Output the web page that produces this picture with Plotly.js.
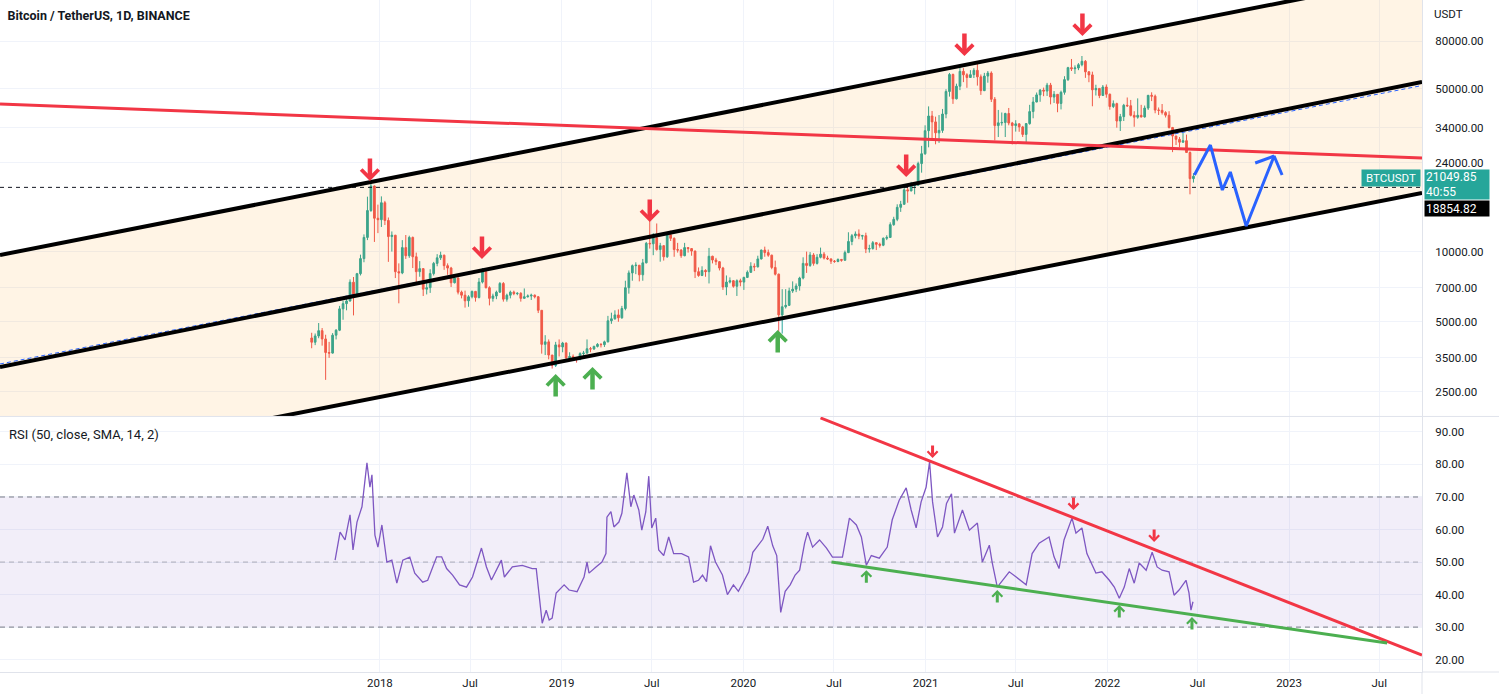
<!DOCTYPE html>
<html><head><meta charset="utf-8">
<script src="https://cdn.plot.ly/plotly-3.0.1.min.js"></script>
<style>html,body{margin:0;padding:0;background:#fff;}#chart{width:1499px;height:694px;}</style>
</head><body><div id="chart"></div>
<script>
// ---- Weekly BTC/USDT candles (weeks ending Sunday) ----
const firstOpen = 4261;
const close2017 = [4086,4347,4580,4220,3690,3670,4380,4600,5680,5980,6140,7390,6500,8040,9330,11500,15000,19100,13900,13700];
const high2017  = [4485,4453,4939,4700,4400,4100,4470,4650,5850,6150,6270,7600,7780,8100,9700,11850,17200,19800,19200,15900];
const low2017   = [3850,3970,4250,3950,2817,3500,3650,4200,4560,5100,5600,6100,5325,6500,7900,9000,11200,14800,11000,12000];

const close2018 = [16200,13600,11600,11750,8200,8100,10400,9600,11500,9500,8200,8450,6900,7000,8050,8900,9400,9650,8700,8500,7350,7700,6700,6500,6150,6400,6750,6350,7400,8200,7000,6300,6450,6700,7300,6250,6500,6700,6600,6620,6300,6400,6450,6500,6400,5600,4000,4100,3600,3250,3980,3900];
const high2018  = [17250,16500,14000,12200,11800,8900,11200,11780,11700,11600,9900,9100,8500,7500,8400,9030,9750,9990,9700,8900,8600,7800,7750,6800,6800,6500,6800,6780,7700,8500,8300,7100,6600,6800,7400,7400,6600,6800,6800,6700,6700,6950,6550,6600,6550,6450,5600,4380,4200,3600,4100,4200];
const low2018   = [12750,13000,9035,10000,7700,6000,8000,9300,9400,8500,7300,7800,6450,6550,6650,7900,8650,9200,8350,7950,7050,7300,6550,6300,5750,5800,6300,6100,6300,7300,6950,5880,6100,6250,6650,6100,6100,6300,6500,6500,6100,6290,6350,6200,6300,5450,3650,3600,3450,3150,3200,3550];

const close2019 = [4050,3500,3550,3500,3450,3650,3670,3830,3820,3920,4000,3990,4100,5050,5150,5350,5200,5700,7000,8100,8700,8740,7950,8950,10850,10800,11450,10200,10600,9500,11800,11400,10200,10150,9600,10400,10300,10050,8200,7900,8300,8200,9550,9200,9050,8500,7050,7400,7500,7100,7500,7400];
const high2019  = [4100,4080,3700,3620,3500,3700,3750,4200,3900,3950,4050,4050,4150,5300,5470,5600,5650,5850,7500,8300,8800,9000,8760,9300,11000,13970,12000,13200,10900,10650,11950,12300,11500,10900,10250,10900,10450,10350,10100,8550,8650,8400,10370,9600,9400,9100,8600,7900,7750,7550,7600,7650];
const low2019   = [3700,3470,3450,3450,3340,3420,3550,3650,3700,3790,3880,3880,3900,4080,4900,5100,5000,5150,5600,6600,7500,8000,7450,7500,8900,10300,9650,10100,9050,9150,9400,11100,9500,9900,9400,9550,9900,9600,7700,7800,7850,7800,7300,8900,8750,8300,6850,6500,7300,7000,6450,7100];

const close2020 = [7750,8150,8650,8600,9300,10150,9900,9650,8550,8000,5350,5800,5880,6780,6900,7120,7700,8900,8720,9670,8900,9450,9750,9380,9300,9100,9070,9250,9180,9900,11050,11700,11900,11650,11700,10250,10300,10920,10750,10650,11400,11500,13050,13750,15480,15950,18400,18200,19150,19250,23850,26280];
const high2020  = [7800,8300,9000,8900,9600,10200,10500,10200,9700,9150,8050,6900,6900,7000,7450,7300,7800,9450,10000,9950,9850,9750,10400,9950,9600,9350,9200,9350,9300,10100,12100,11900,12200,12450,11800,12050,10700,11100,10950,10920,11500,11750,13350,14100,15950,16500,18950,19000,19900,19400,24300,28400];
const low2020   = [6850,7700,8100,8250,8550,9250,9500,9500,8400,7900,3782,4450,5700,5850,6650,6700,6800,7600,8100,8600,8700,8800,9350,9250,9200,8850,8950,9000,9050,9150,9850,10650,11400,11300,11250,9850,9900,10200,10150,10400,10550,11200,11450,12900,13500,14800,15900,16200,18150,17600,19200,21800];

const close2021 = [33000,38150,36000,32300,33100,38900,48600,57500,45200,51200,59300,57300,55800,57400,59900,56150,49000,56600,58300,45000,34700,35650,35800,39100,35600,34700,35300,34250,31800,35400,39850,43800,47000,49250,48800,51750,46000,47250,43200,48200,54650,61500,60850,61300,63300,65500,59000,57250,49400,50100,46700,50800];
const high2021  = [34800,41950,40100,37900,38500,40900,49700,58350,58000,52500,61800,61200,58200,60000,61200,64850,57500,58400,59500,59300,46000,40500,39500,39400,41300,36000,36600,35500,34600,35500,42600,46000,48100,49800,50500,52900,52900,48800,47400,49000,56500,62000,67000,62900,64300,69000,66300,59500,59100,51950,50200,51800];
const low2021   = [26000,28000,30300,28850,29250,32300,37300,46200,43000,44950,49250,53300,50400,55700,55500,51500,47000,48800,53000,43800,30000,31000,34700,31000,34800,28800,32700,32650,31000,29300,35000,37300,43700,43900,46400,46500,42800,43400,39600,40700,47100,53900,59500,57800,60000,62300,55600,53250,42000,46700,45500,46600];

const close2022 = [47300,41900,43100,36300,37900,42400,42200,38400,37700,38400,37800,41250,46800,46400,40450,40350,39450,38450,34050,31300,30300,29450,29900,26600,20550,21049.85];
const high2022  = [52100,47600,44500,43500,38950,43000,45800,44700,40000,45400,42600,42300,46900,48200,47150,41500,42950,40000,40000,34250,31400,31000,32400,31750,26900,21700];
const low2022   = [45700,40600,41250,34000,32900,36300,41700,38000,34300,37150,37600,37550,40500,44200,39200,38550,38700,37600,33700,26700,28650,28000,29300,26550,17600,19770];

// ---- RSI (50) ----
const rsiDates = ['2017-10-03','2017-10-13','2017-10-23','2017-11-02','2017-11-08','2017-11-16','2017-11-26','2017-12-06','2017-12-12','2017-12-16','2017-12-22','2017-12-28',
'2018-01-05','2018-01-15','2018-01-25','2018-02-04','2018-02-16','2018-03-02','2018-03-12','2018-03-28','2018-04-07','2018-04-25','2018-05-05','2018-05-15','2018-05-27','2018-06-10','2018-06-24','2018-07-06','2018-07-24','2018-08-03','2018-08-13','2018-09-02','2018-09-08','2018-09-24','2018-10-14','2018-11-03','2018-11-11','2018-11-17','2018-11-23','2018-12-01','2018-12-07','2018-12-13','2018-12-21',
'2019-01-06','2019-01-16','2019-02-01','2019-02-15','2019-02-21','2019-02-25','2019-03-11','2019-03-23','2019-03-31','2019-04-02','2019-04-10','2019-04-16','2019-04-26','2019-05-02','2019-05-12','2019-05-20','2019-05-26','2019-06-05','2019-06-11','2019-06-19','2019-06-25','2019-07-01','2019-07-09','2019-07-15','2019-07-25','2019-08-04','2019-08-14','2019-08-30','2019-09-13','2019-09-23','2019-10-03','2019-10-11','2019-10-19','2019-10-27','2019-11-06','2019-11-20','2019-11-30','2019-12-12','2019-12-22',
'2020-01-02','2020-01-12','2020-01-20','2020-01-30','2020-02-09','2020-02-19','2020-02-29','2020-03-08','2020-03-11','2020-03-16','2020-03-25','2020-04-04','2020-04-14','2020-04-23','2020-05-03','2020-05-09','2020-05-19','2020-06-02','2020-06-16','2020-06-28','2020-07-18','2020-08-01','2020-08-15','2020-08-25','2020-09-04','2020-09-14','2020-09-30','2020-10-16','2020-10-26','2020-11-09','2020-11-23','2020-12-03','2020-12-13','2020-12-23',
'2021-01-02','2021-01-09','2021-01-15','2021-01-25','2021-02-04','2021-02-12','2021-02-22','2021-02-28','2021-03-16','2021-03-30','2021-04-15','2021-04-25','2021-05-09','2021-05-15','2021-05-25','2021-06-04','2021-06-18','2021-07-02','2021-07-22','2021-08-03','2021-08-17','2021-09-06','2021-09-16','2021-09-26','2021-10-06','2021-10-22','2021-10-30','2021-11-11','2021-11-21','2021-12-09','2021-12-21',
'2022-01-05','2022-01-15','2022-01-25','2022-02-04','2022-02-14','2022-02-24','2022-03-06','2022-03-20','2022-04-01','2022-04-11','2022-04-21','2022-05-05','2022-05-15','2022-05-25','2022-06-08','2022-06-14','2022-06-18','2022-06-22'];
const rsiValues = [50.6,59.2,56.8,64.5,53.7,62.3,67,80.5,73,76.8,58.3,54.6,
61.4,50,50.6,43.5,50.6,51.5,46.6,43.8,44.4,51.6,51.6,48,46,43,42.3,45.4,54.3,48.5,44.5,50.6,45.4,48.5,49,48,48,40.5,31.2,35.2,32.2,32.8,40.5,
43,41.4,40.9,45.4,50,46.6,48.5,50,52.6,63.8,65.5,60.8,62.3,65,77.4,67,70.6,66,59.8,65.4,76.4,60.5,63.5,53.7,52,57.7,52.6,52.6,51.6,43.8,44.4,46,44,55,50,46,40,43,41,
44,47,53,55,57,61,55,52,44,34.5,41,43,46,47.5,55.8,59.2,54.6,56.8,54.3,51.5,51.5,63.5,61.4,57.7,49,52,51.2,54.6,63,69,72.8,66,60.5,68.5,
73,80.8,68.5,57.7,60.8,68,71,58.9,66,59.8,62,50,55.2,49.7,42.3,44.4,47,45.4,43,52.6,55.8,57.7,51.6,48,56.8,63.5,58.9,60.5,52.6,46.6,47,
44.4,42.3,38.9,42.3,48,43.5,49.7,47.5,53,48.5,47.5,47,39.8,41.4,44.4,40.5,35.2,37.8];

// ---- Axis ticks ----
const xTickVals = ['2018-01-01','2018-07-01','2019-01-01','2019-07-01','2020-01-01','2020-07-01','2021-01-01','2021-07-01','2022-01-01','2022-07-01','2023-01-01','2023-07-01'];
const xTickText = ['2018','Jul','2019','Jul','2020','Jul','2021','Jul','2022','Jul','2023','Jul'];
const priceTicks = [2500,3500,5000,7000,10000,24000,34000,50000,80000];
const rsiTicks = [20,30,40,50,60,70,80,90];

// ---- Drawings (in data units) ----
const viewStart = '2015-11-30', viewEnd = '2023-09-25';
const channelTop = [9667, 153500];
const channelMid = [3199, 53360];
const channelBottom = [1141, 17835];
const channelMidDashed = [3296, 51550];
const redResistance = [42940, 25200];
const hLinePrice = 18854.82;
const lastPrice = 21049.85;
const projDates = ['2022-06-25','2022-07-27','2022-08-20','2022-09-05','2022-10-07','2022-12-02','2022-12-18'];
const projPrices = [21300,28640,18370,21940,12880,25700,21300];
const projHeadDates = ['2022-10-25','2022-12-02'];
const projHeadPrices = [23980,25700];
const rsiRedDates = ['2020-06-04','2023-09-25'], rsiRedVals = [94.3,21.4];
const rsiGreenDates = ['2020-06-26','2023-07-17'], rsiGreenVals = [50,25.1];
const priceDownDates = ['2017-12-12','2018-07-25','2019-06-27','2020-11-23','2021-03-20','2021-11-12'];
const priceDownVals = [20080,9295,13395,20880,68980,84040];
const priceUpDates = ['2018-12-20','2019-03-04','2020-03-10'];
const priceUpVals = [2985,3199,4610];
const rsiDownDates = ['2021-01-15','2021-10-25','2022-04-05'];
const rsiDownVals = [82,66,56.2];
const rsiUpDates = ['2020-09-04','2021-05-25','2022-01-25','2022-06-20'];
const rsiUpVals = [47.5,41.4,36.8,33.1];

// ---- Build ----
const closes = [].concat(close2017, close2018, close2019, close2020, close2021, close2022);
const highs  = [].concat(high2017, high2018, high2019, high2020, high2021, high2022);
const lows   = [].concat(low2017, low2018, low2019, low2020, low2021, low2022);
const opens  = closes.map((c, i) => i === 0 ? firstOpen : closes[i - 1]);
const weekDates = closes.map((_, i) => new Date(Date.UTC(2017, 7, 17) + i * 7 * 864e5).toISOString().slice(0, 10));

const RED = '#f23645', GREEN = '#4caf50', BLUE = '#2962ff', GRID = '#f0f3fa', LINE = '#e0e3eb', TXT = '#131722';
const FONT = 'Roboto, "Liberation Sans", sans-serif';

const traces = [
  {type:'scatter', mode:'lines', x:[viewStart, viewEnd, viewEnd, viewStart], y:[channelTop[0], channelTop[1], channelBottom[1], channelBottom[0]],
   fill:'toself', fillcolor:'rgba(255,152,0,0.1)', line:{width:0}, xaxis:'x', yaxis:'y', hoverinfo:'skip'},
  {type:'candlestick', x:weekDates, open:opens, high:highs, low:lows, close:closes, xaxis:'x', yaxis:'y',
   increasing:{line:{color:'#26a69a', width:1}, fillcolor:'#26a69a'},
   decreasing:{line:{color:'#ef5350', width:1}, fillcolor:'#ef5350'}, whiskerwidth:0, hoverinfo:'skip'},
  {type:'scatter', mode:'lines', x:[viewStart, viewEnd], y:[hLinePrice, hLinePrice], line:{color:TXT, width:1, dash:'4px,4px'}, xaxis:'x', yaxis:'y'},
  {type:'scatter', mode:'lines', x:[viewStart, viewEnd], y:channelMidDashed, line:{color:BLUE, width:1, dash:'4px,3px'}, xaxis:'x', yaxis:'y'},
  {type:'scatter', mode:'lines', x:[viewStart, viewEnd], y:channelTop, line:{color:'#000000', width:4}, xaxis:'x', yaxis:'y'},
  {type:'scatter', mode:'lines', x:[viewStart, viewEnd], y:channelMid, line:{color:'#000000', width:4}, xaxis:'x', yaxis:'y'},
  {type:'scatter', mode:'lines', x:[viewStart, viewEnd], y:channelBottom, line:{color:'#000000', width:4}, xaxis:'x', yaxis:'y'},
  {type:'scatter', mode:'lines', x:[viewStart, viewEnd], y:redResistance, line:{color:RED, width:3}, xaxis:'x', yaxis:'y'},
  {type:'scatter', mode:'lines', x:projDates, y:projPrices, line:{color:BLUE, width:3}, xaxis:'x', yaxis:'y'},
  {type:'scatter', mode:'lines', x:projHeadDates, y:projHeadPrices, line:{color:BLUE, width:3}, xaxis:'x', yaxis:'y'},
  // RSI pane
  {type:'scatter', mode:'lines', x:[viewStart, viewEnd, viewEnd, viewStart], y:[30,30,70,70], fill:'toself', fillcolor:'rgba(126,87,194,0.1)', line:{width:0}, xaxis:'x2', yaxis:'y2'},
  {type:'scatter', mode:'lines', x:[viewStart, viewEnd], y:[70,70], line:{color:'#787b86', width:1, dash:'5px,4px'}, xaxis:'x2', yaxis:'y2'},
  {type:'scatter', mode:'lines', x:[viewStart, viewEnd], y:[50,50], line:{color:'rgba(120,123,134,0.55)', width:1, dash:'5px,4px'}, xaxis:'x2', yaxis:'y2'},
  {type:'scatter', mode:'lines', x:[viewStart, viewEnd], y:[30,30], line:{color:'#787b86', width:1, dash:'5px,4px'}, xaxis:'x2', yaxis:'y2'},
  {type:'scatter', mode:'lines', x:rsiDates, y:rsiValues, line:{color:'#7e57c2', width:1.3}, xaxis:'x2', yaxis:'y2'},
  {type:'scatter', mode:'lines', x:rsiRedDates, y:rsiRedVals, line:{color:RED, width:3}, xaxis:'x2', yaxis:'y2'},
  {type:'scatter', mode:'lines', x:rsiGreenDates, y:rsiGreenVals, line:{color:GREEN, width:3}, xaxis:'x2', yaxis:'y2'}
];

function arrow(x, y, xref, yref, down, color, big) {
  return {x:x, y:y, xref:xref, yref:yref, text:'', showarrow:true, arrowhead:4,
    arrowwidth: big ? 4.5 : 3, arrowsize: big ? 0.75 : 0.65, arrowcolor:color,
    ax:0, ay: (down ? -1 : 1) * (big ? 24 : 14), standoff:0};
}

const annotations = [];
priceDownDates.forEach((d, i) => annotations.push(arrow(d, Math.log10(priceDownVals[i]), 'x', 'y', true, RED, true)));
priceUpDates.forEach((d, i) => annotations.push(arrow(d, Math.log10(priceUpVals[i]), 'x', 'y', false, GREEN, true)));
rsiDownDates.forEach((d, i) => annotations.push(arrow(d, rsiDownVals[i], 'x2', 'y2', true, RED, false)));
rsiUpDates.forEach((d, i) => annotations.push(arrow(d, rsiUpVals[i], 'x2', 'y2', false, GREEN, false)));

annotations.push(
  {xref:'paper', yref:'paper', x:0, y:0.3795, xanchor:'left', yanchor:'middle', xshift:7, yshift:-18, showarrow:false,
   text:'RSI (50, close, SMA, 14, 2)', font:{family:FONT, size:13, color:TXT}},
  {xref:'paper', yref:'paper', x:1, y:1, xanchor:'left', yanchor:'middle', xshift:10, yshift:-14, showarrow:false,
   text:'USDT', font:{family:FONT, size:11.5, color:TXT}},
  {xref:'paper', yref:'y', x:1, y:Math.log10(lastPrice), xanchor:'right', yanchor:'middle', xshift:-1, yshift:-2, showarrow:false,
   text:'BTCUSDT', font:{family:FONT, size:11.5, color:'#ffffff'}, bgcolor:'#26a69a', width:56, height:14, borderpad:1},
  {xref:'paper', yref:'y', x:1, y:Math.log10(lastPrice), xanchor:'left', yanchor:'top', xshift:2, yshift:7, showarrow:false,
   text:lastPrice.toFixed(2) + '<br>40:55', align:'left', font:{family:FONT, size:12, color:'#ffffff'}, bgcolor:'#26a69a', width:62, height:27, borderpad:1},
  {xref:'paper', yref:'y', x:1, y:Math.log10(hLinePrice), xanchor:'left', yanchor:'top', xshift:2, yshift:-13, showarrow:false,
   text:hLinePrice.toFixed(2), align:'left', font:{family:FONT, size:12, color:'#ffffff'}, bgcolor:'#000000', width:62, height:13, borderpad:1}
);

const layout = {
  width:1499, height:694,
  margin:{l:0, r:77, t:0, b:22},
  paper_bgcolor:'#ffffff', plot_bgcolor:'#ffffff',
  showlegend:false, hovermode:false,
  font:{family:FONT, size:11.5, color:TXT},
  title:{text:'<b>Bitcoin / TetherUS, 1D, BINANCE</b>', x:0.005, xanchor:'left', xref:'container', y:0.977, yanchor:'middle', yref:'container',
         font:{family:FONT, size:12.5, color:TXT}},
  xaxis:{domain:[0,1], anchor:'y', type:'date', range:[viewStart, viewEnd], tickvals:xTickVals, showticklabels:false,
         showgrid:true, gridcolor:GRID, zeroline:false, showline:false, rangeslider:{visible:false}, ticks:''},
  xaxis2:{domain:[0,1], anchor:'y2', type:'date', range:[viewStart, viewEnd], tickvals:xTickVals, ticktext:xTickText,
          showgrid:true, gridcolor:GRID, zeroline:false, showline:true, linecolor:LINE, ticks:'', ticklabelstandoff:0,
          tickfont:{family:FONT, size:11.5, color:TXT}},
  yaxis:{domain:[0.381,1], anchor:'x', type:'log', range:[3.295,5.079], side:'right', tickvals:priceTicks,
         ticktext:priceTicks.map(v => v.toFixed(2)), showgrid:true, gridcolor:GRID, zeroline:false, showline:true, linecolor:LINE,
         ticks:'', ticklabelstandoff:10, tickfont:{family:FONT, size:11.5, color:TXT}},
  yaxis2:{domain:[0,0.3795], anchor:'x2', range:[16.2,94.6], side:'right', tickvals:rsiTicks, ticktext:rsiTicks.map(v => v.toFixed(2)),
          showgrid:true, gridcolor:GRID, zeroline:false, showline:true, linecolor:LINE, ticks:'', ticklabelstandoff:10,
          tickfont:{family:FONT, size:11.5, color:TXT}},
  shapes:[
    {type:'line', xref:'paper', yref:'paper', x0:0, x1:1.06, y0:0.3803, y1:0.3803, line:{color:LINE, width:1}},
    {type:'line', xref:'paper', yref:'paper', x0:1, x1:1.06, y0:0, y1:0, line:{color:LINE, width:1}},
    {type:'line', xref:'paper', yref:'paper', x0:1, x1:1, y0:-0.04, y1:0, line:{color:LINE, width:1}}
  ],
  annotations:annotations
};

Plotly.newPlot('chart', traces, layout, {staticPlot:true, displayModeBar:false});
</script>
</body></html>
